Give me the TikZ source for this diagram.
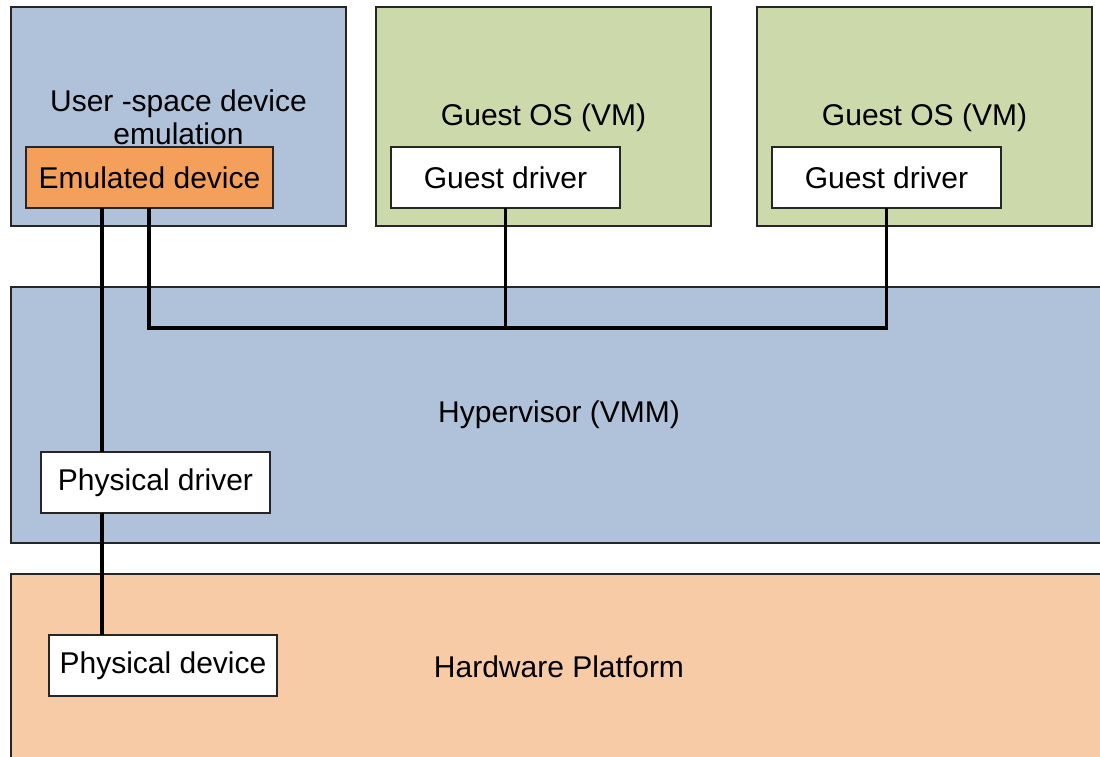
\documentclass[tikz,border=0pt]{standalone}
\usepackage{fontspec}
\setmainfont{Liberation Sans}
\definecolor{layerblue}{HTML}{B0C2DA}
\definecolor{guestgreen}{HTML}{CCDAAB}
\definecolor{hwpeach}{HTML}{F8CBA7}
\definecolor{emuorange}{HTML}{F4A05A}
\definecolor{edge}{HTML}{262626}
\begin{document}
\begin{tikzpicture}[x=1pt,y=-1pt,
  area/.style={draw=edge,line width=1.2pt,inner sep=0pt,outer sep=0pt},
  part/.style={draw=edge,line width=1.2pt,fill=white,inner sep=0pt,outer sep=0pt,
    minimum height=61pt,font=\fontsize{30}{36}\selectfont},
  lbl/.style={font=\fontsize{30}{36}\selectfont,align=center,inner sep=0pt},
  link/.style={line width=3.8pt,draw=black}]
  \clip (0,0) rectangle (1100,756);
  \fill[white] (0,0) rectangle (1100,756);

  % layer boxes
  \node[area,fill=layerblue,minimum width=335pt,minimum height=219pt] (user) at (178.5,116.5) {};
  \node[area,fill=guestgreen,minimum width=335pt,minimum height=219pt] (vm1) at (543.5,116.5) {};
  \node[area,fill=guestgreen,minimum width=335pt,minimum height=219pt] (vm2) at (924.5,116.5) {};
  \node[area,fill=layerblue,minimum width=1110pt,minimum height=256pt] (hyp) at (566,415) {};
  \node[area,fill=hwpeach,minimum width=1110pt,minimum height=210pt] (hw) at (566,679) {};

  % layer labels
  \node[lbl] (userlbl) at (178.5,117) {User -space device\\[-3pt]emulation};
  \node[lbl] (vm1lbl) at (543.5,118) {Guest OS (VM)};
  \node[lbl] (vm2lbl) at (924.5,118) {Guest OS (VM)};
  \node[lbl] (hyplbl) at (559,415) {Hypervisor (VMM)};
  \node[lbl] (hwlbl) at (559,667) {Hardware Platform};

  % components
  \node[part,fill=emuorange,minimum width=247pt] (emu) at (149.5,177.5) {Emulated device};
  \node[part,minimum width=229pt] (gd1) at (505.5,177.5) {Guest driver};
  \node[part,minimum width=229pt] (gd2) at (886.5,177.5) {Guest driver};
  \node[part,minimum width=229pt] (pdrv) at (155.5,482.5) {Physical driver};
  \node[part,minimum width=228pt] (pdev) at (163,665.5) {Physical device};

  % connectors
  \coordinate (vline) at (102,0);
  \coordinate (bus) at (149,328);
  \draw[link] (emu.south -| vline) -- (pdrv.north -| vline);
  \draw[link] (pdrv.south -| vline) -- (pdev.north -| vline);
  \draw[link] (emu.south -| bus) -- (bus) -- (bus -| gd2.south) -- (gd2.south);
  \draw[link] (gd1.south) -- (gd1.south |- bus);
\end{tikzpicture}
\end{document}
